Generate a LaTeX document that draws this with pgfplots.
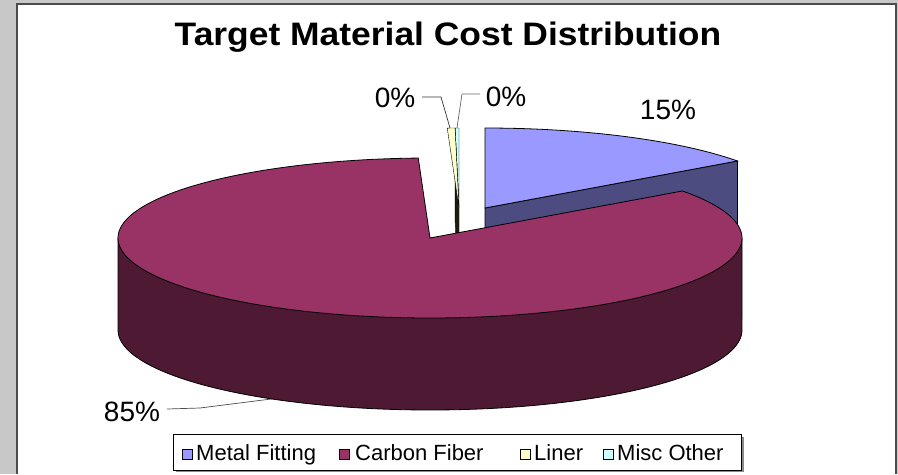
\documentclass[border=0pt]{standalone}
\usepackage{pgfplots}
\pgfplotsset{compat=1.18}
\usepackage{pgfplotstable}
\usepackage{fontspec}
\setmainfont{Liberation Sans}

\definecolor{metal}{RGB}{153,153,255}
\definecolor{metalside}{RGB}{76,76,128}
\definecolor{carbon}{RGB}{153,51,102}
\definecolor{carbonside}{RGB}{77,25,51}
\definecolor{liner}{RGB}{255,255,204}
\definecolor{linerside}{RGB}{30,30,15}
\definecolor{misc}{RGB}{204,255,255}
\definecolor{bggray}{RGB}{200,200,200}

% slice values in percent (the two 0% slices are tiny non-zero shares)
\pgfplotstableread{
name value
Metal 15
Carbon 84.4
Liner 0.4
Misc 0.2
}\piedata
\pgfplotstablegetelem{0}{value}\of\piedata\let\vA\pgfplotsretval
\pgfplotstablegetelem{1}{value}\of\piedata\let\vB\pgfplotsretval
\pgfplotstablegetelem{2}{value}\of\piedata\let\vC\pgfplotsretval
\pgfplotstablegetelem{3}{value}\of\piedata\let\vD\pgfplotsretval

% pie geometry (pixel units)
\def\cx{430}\def\cy{238}\def\rx{312}\def\ry{80}\def\hd{92}
\pgfmathsetmacro{\aA}{90}
\pgfmathsetmacro{\aB}{\aA-3.6*\vA}
\pgfmathsetmacro{\aC}{\aB-3.6*\vB}
\pgfmathsetmacro{\aD}{\aC-3.6*\vC}
\pgfmathsetmacro{\aE}{\aD-3.6*\vD}
% exploded metal slice
\def\mX{485}\def\mY{208}
\pgfmathsetmacro{\mRx}{\mX+\rx*cos(\aB)}
\pgfmathsetmacro{\mRy}{\mY-\ry*sin(\aB)}
\pgfmathsetmacro{\mRyb}{\mRy+\hd}
\pgfmathsetmacro{\mYb}{\mY+\hd}
% exploded liner / misc slices
\def\lX{459}\def\lY{208}
\pgfmathsetmacro{\lRx}{\lX+\rx*cos(\aD)}
\pgfmathsetmacro{\lRy}{\lY-\ry*sin(\aD)}
\pgfmathsetmacro{\lRyb}{\lRy+\hd}
\pgfmathsetmacro{\lYb}{\lY+\hd}
\pgfmathsetmacro{\cL}{\cx-\rx}
\pgfmathsetmacro{\cR}{\cx+\rx}

\begin{document}
\begin{tikzpicture}
\begin{axis}[width=898pt,height=474pt,scale only axis,
  xmin=0,xmax=898,ymin=0,ymax=474,y dir=reverse,
  hide axis,clip=false]
% background
\fill[bggray] (0,0) rectangle (898,474);
\fill[white] (17,4) rectangle (896,474);
\draw[black!70,line width=1.2pt] (17,474) -- (17,4) -- (896,4) -- (896,474);

% title
\node[anchor=base,font=\bfseries\fontsize{32.5}{36}\selectfont,xscale=1.09] at (448,45) {Target Material Cost Distribution};

% data labels
\node[anchor=base,font=\fontsize{28}{30}\selectfont] at (395,107) {0\%};
\node[anchor=base,font=\fontsize{28}{30}\selectfont] at (506,106) {0\%};
\node[anchor=base,font=\fontsize{28}{30}\selectfont] at (668,119) {15\%};
\node[anchor=base,font=\fontsize{28}{30}\selectfont] at (132,421) {85\%};
\draw[black!80,line width=0.7pt] (422,97) -- (441,97) -- (450,128);
\draw[black!60,line width=0.7pt] (480,94) -- (462,94) -- (457,128);
\draw[black!70,line width=0.7pt] (167,409) -- (200,408) -- (295,396);

% misc slice (top face)
\addplot[draw=black,fill=misc,line width=0.4pt,domain=\aE:\aD,samples=2]
  ({\lX+\rx*cos(x)},{\lY-\ry*sin(x)}) -- (axis cs:\lX,\lY) -- cycle;
% liner slice: side face and top face
\addplot[draw=black,fill=linerside,line width=0.4pt]
  coordinates {(\lX,\lY) (\lRx,\lRy) (\lRx,\lRyb) (\lX,\lYb)} -- cycle;
\addplot[draw=black,fill=liner,line width=0.4pt,domain=\aD:\aC,samples=2]
  ({\lX+\rx*cos(x)},{\lY-\ry*sin(x)}) -- (axis cs:\lX,\lY) -- cycle;

% metal fitting slice: side face and top face
\addplot[draw=black,fill=metalside,line width=0.8pt]
  coordinates {(\mX,\mY) (\mRx,\mRy) (\mRx,\mRyb) (\mX,\mYb)} -- cycle;
\addplot[draw=black,fill=metal,line width=0.8pt,domain=\aB:\aA,samples=40]
  ({\mX+\rx*cos(x)},{\mY-\ry*sin(x)}) -- (axis cs:\mX,\mY) -- cycle;

% carbon fiber slice: outer side and top face
\addplot[draw=black,fill=carbonside,line width=0.8pt,domain=180:360,samples=150]
  ({\cx+\rx*cos(x)},{\cy+\hd-\ry*sin(x)}) -- (axis cs:\cR,\cy) -- (axis cs:\cL,\cy) -- cycle;
\addplot[draw=black,fill=carbon,line width=0.8pt,domain=\aC:\aB,samples=250]
  ({\cx+\rx*cos(x)},{\cy-\ry*sin(x)}) -- (axis cs:\cx,\cy) -- cycle;

% legend
\fill[black!45] (176,437) rectangle (744,472);
\draw[fill=white,draw=black,line width=0.8pt] (173,434) rectangle (741,470);
\draw[fill=metal,draw=black,line width=0.6pt] (182,449) rectangle (192,459);
\draw[fill=carbon,draw=black,line width=0.6pt] (339,449) rectangle (349,459);
\draw[fill=liner,draw=black,line width=0.6pt] (520,449) rectangle (530,459);
\draw[fill=misc,draw=black,line width=0.6pt] (603,449) rectangle (613,459);
\node[anchor=base west,inner sep=0pt,font=\fontsize{22}{24}\selectfont] at (196,460) {Metal Fitting};
\node[anchor=base west,inner sep=0pt,font=\fontsize{22}{24}\selectfont] at (355,460) {Carbon Fiber};
\node[anchor=base west,inner sep=0pt,font=\fontsize{22}{24}\selectfont] at (534,460) {Liner};
\node[anchor=base west,inner sep=0pt,font=\fontsize{22}{24}\selectfont] at (617,460) {Misc Other};
\end{axis}
\end{tikzpicture}
\end{document}
